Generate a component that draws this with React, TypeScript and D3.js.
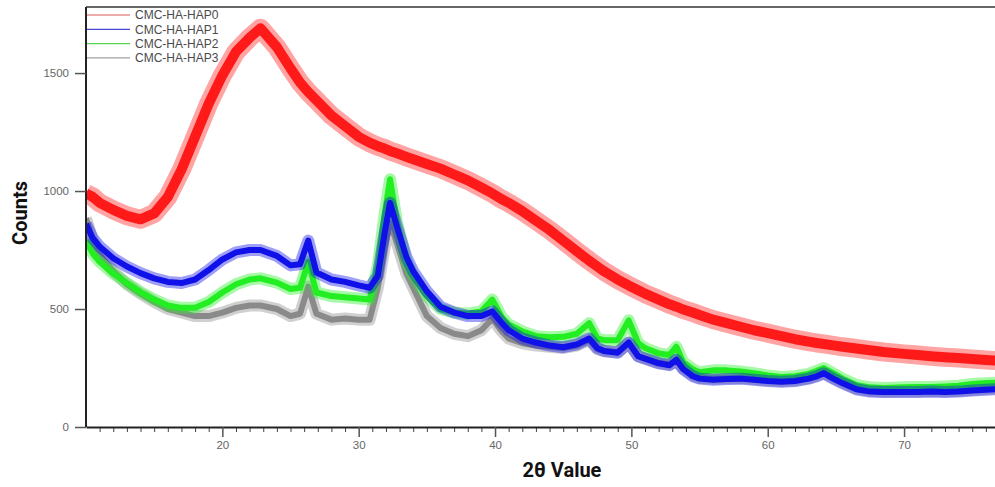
import { useEffect, useRef } from "react";
import * as d3 from "d3";

// 2θ positions shared by all four patterns (denser around the reflections)
const twoTheta = [
  10, 10.5, 11, 12, 13, 14, 15, 16, 17, 18, 19, 20, 21, 22, 22.8, 24, 25, 25.7, 26.3, 26.9,
  28, 29, 30, 30.8, 31.4, 31.9, 32.3, 32.8, 33.5, 34, 35, 36, 37, 38, 39, 39.8, 40.5, 41, 42, 43,
  44, 45, 46, 46.9, 47.5, 48, 49, 49.8, 50.5, 51, 52, 52.8, 53.3, 53.8, 54.5, 55, 56, 57, 58, 59,
  60, 61, 62, 63, 63.6, 64.1, 64.8, 65.5, 66.5, 67.5, 68.5, 70, 71, 72, 73, 74, 75, 76, 76.7,
];

const hap0 = [
  990, 975, 950, 920, 895, 880, 905, 975, 1090, 1230, 1370, 1490, 1590, 1650, 1690, 1610, 1520, 1460, 1420, 1385,
  1320, 1275, 1230, 1205, 1190, 1180, 1170, 1160, 1145, 1135, 1115, 1095, 1070, 1045, 1015, 990, 965, 950, 915, 875,
  835, 790, 745, 705, 680, 660, 625, 600, 580, 565, 540, 520, 510, 498, 485, 475, 455, 440, 425, 410,
  398, 385, 372, 362, 356, 352, 346, 340, 333, 325, 318, 310, 305, 300, 296, 292, 288, 284, 282,
];

const hap1 = [
  860, 800, 765, 715, 680, 652, 630, 615, 610, 625, 665, 710, 740, 750, 750, 725, 685, 690, 790, 655,
  625, 615, 600, 590, 640, 820, 950, 850, 720, 660, 575, 510, 485, 470, 470, 490, 440, 410, 375, 358,
  345, 338, 350, 375, 335, 322, 315, 358, 300, 290, 270, 262, 285, 245, 215, 205, 200, 203, 205, 200,
  195, 192, 195, 205, 215, 228, 205, 185, 160, 150, 148, 148, 148, 150, 148, 150, 155, 158, 160,
];

const hap2 = [
  790, 735, 700, 650, 610, 572, 540, 515, 505, 505, 530, 570, 605, 625, 630, 612, 585, 590, 700, 570,
  555, 550, 545, 540, 680, 900, 1050, 870, 700, 640, 555, 500, 485, 480, 490, 540, 465, 435, 405, 385,
  380, 382, 395, 440, 375, 368, 368, 452, 355, 335, 312, 305, 340, 275, 245, 232, 240, 240, 235, 228,
  218, 212, 215, 225, 238, 250, 228, 205, 178, 168, 165, 168, 170, 170, 172, 175, 182, 186, 188,
];

const hap3 = [
  885, 790, 730, 660, 605, 565, 530, 500, 485, 470, 470, 485, 505, 515, 515, 500, 470, 480, 595, 480,
  455, 460, 455, 455, 590, 760, 865, 780, 650, 590, 470, 420, 395, 385, 410, 460, 405, 375, 355, 345,
  340, 335, 345, 370, 330, 322, 318, 355, 300, 290, 272, 265, 285, 248, 220, 208, 205, 207, 208, 203,
  198, 195, 198, 207, 218, 230, 208, 188, 163, 153, 150, 152, 152, 153, 152, 154, 158, 162, 164,
];

const seriesNames = ["CMC-HA-HAP0", "CMC-HA-HAP1", "CMC-HA-HAP2", "CMC-HA-HAP3"];
const yTicks = [0, 500, 1000, 1500];
const xTicks = [20, 30, 40, 50, 60, 70];

export default function App() {
  const svgRef = useRef<SVGSVGElement>(null);

  useEffect(() => {
    if (!svgRef.current) return;
    const width = 995;
    const height = 487;
    const left = 86;
    const top = 7;
    const bottom = 427;

    const svg = d3.select(svgRef.current);
    svg.selectAll("*").remove();
    svg.attr("width", width).attr("height", height);

    const x = d3.scaleLinear().domain([10, 76.67]).range([left, width]);
    const y = d3.scaleLinear().domain([0, 1780]).range([bottom, top]);

    svg
      .append("defs")
      .append("clipPath")
      .attr("id", "plot-clip")
      .append("rect")
      .attr("x", left)
      .attr("y", top)
      .attr("width", width - left)
      .attr("height", bottom - top);

    const series = [
      { name: seriesNames[0], values: hap0, color: "#ff1a1a", legend: "#e05a5a", band: 19, core: 10 },
      { name: seriesNames[3], values: hap3, color: "#8a8a8a", legend: "#a0a0a0", band: 12, core: 6 },
      { name: seriesNames[2], values: hap2, color: "#22ee22", legend: "#55d655", band: 12, core: 6 },
      { name: seriesNames[1], values: hap1, color: "#1010e8", legend: "#4a4ad0", band: 12, core: 6 },
    ];

    const line = d3
      .line<number>()
      .x((_, i) => x(twoTheta[i]))
      .y((d) => y(d))
      .curve(d3.curveLinear);

    const plot = svg.append("g").attr("clip-path", "url(#plot-clip)");
    series.forEach((s) => {
      plot
        .append("path")
        .attr("d", line(s.values))
        .attr("fill", "none")
        .attr("stroke", s.color)
        .attr("stroke-opacity", 0.4)
        .attr("stroke-width", s.band)
        .attr("stroke-linejoin", "round");
      plot
        .append("path")
        .attr("d", line(s.values))
        .attr("fill", "none")
        .attr("stroke", s.color)
        .attr("stroke-width", s.core)
        .attr("stroke-linejoin", "round");
    });

    // frame top line
    svg
      .append("line")
      .attr("x1", left)
      .attr("x2", width)
      .attr("y1", top)
      .attr("y2", top)
      .attr("stroke", "#333")
      .attr("stroke-width", 1.5);

    // x axis: major + minor ticks
    const minor = d3.range(11, 77).filter((v) => v % 10 !== 0);
    svg
      .append("g")
      .attr("transform", `translate(0,${bottom})`)
      .call(d3.axisBottom(x).tickValues(minor).tickSize(5).tickSizeOuter(0).tickFormat(() => ""))
      .call((g) => g.select(".domain").remove())
      .call((g) => g.selectAll("line").attr("stroke", "#444").attr("stroke-width", 1));

    svg
      .append("g")
      .attr("transform", `translate(0,${bottom})`)
      .call(
        d3
          .axisBottom(x)
          .tickValues(xTicks)
          .tickSize(10)
          .tickSizeOuter(0)
          .tickPadding(4)
          .tickFormat(d3.format("d"))
      )
      .call((g) => g.select(".domain").attr("stroke", "#222").attr("stroke-width", 2))
      .call((g) => g.selectAll("line").attr("stroke", "#555").attr("stroke-width", 1.5))
      .call((g) =>
        g
          .selectAll("text")
          .attr("fill", "#666")
          .style("font-size", "11.5px")
          .style("font-family", "'Liberation Sans', Arial, sans-serif")
      );

    svg
      .append("g")
      .attr("transform", `translate(${left},0)`)
      .call(
        d3
          .axisLeft(y)
          .tickValues(yTicks)
          .tickSize(11)
          .tickSizeOuter(0)
          .tickPadding(6)
          .tickFormat(d3.format("d"))
      )
      .call((g) =>
        g.select(".domain").attr("d", `M0,${top}V${bottom}`).attr("stroke", "#222").attr("stroke-width", 2)
      )
      .call((g) => g.selectAll("line").attr("stroke", "#555").attr("stroke-width", 1.5))
      .call((g) =>
        g
          .selectAll("text")
          .attr("fill", "#666")
          .style("font-size", "11.5px")
          .style("font-family", "'Liberation Sans', Arial, sans-serif")
      );

    // legend
    const legendOrder = [0, 3, 2, 1];
    const legend = svg.append("g");
    legendOrder.forEach((idx, row) => {
      const s = series[idx];
      const ly = 15 + row * 14.3;
      legend
        .append("line")
        .attr("x1", left + 1)
        .attr("x2", 130)
        .attr("y1", ly)
        .attr("y2", ly)
        .attr("stroke", s.legend)
        .attr("stroke-width", 1.2);
      legend
        .append("text")
        .attr("x", 135)
        .attr("y", ly)
        .attr("dy", "0.35em")
        .attr("fill", "#4a4a4a")
        .style("font-size", "12px")
        .style("font-family", "'Liberation Sans', Arial, sans-serif")
        .text(s.name);
    });

    // axis titles
    svg
      .append("text")
      .attr("transform", `translate(27,213) rotate(-90)`)
      .attr("text-anchor", "middle")
      .attr("fill", "#111")
      .style("font-size", "20px")
      .style("font-weight", "700")
      .style("font-family", "Roboto, 'Open Sans', sans-serif")
      .text("Counts");

    svg
      .append("text")
      .attr("x", 562)
      .attr("y", 477)
      .attr("text-anchor", "middle")
      .attr("fill", "#111")
      .style("font-size", "20px")
      .style("font-weight", "700")
      .style("font-family", "Roboto, 'Open Sans', sans-serif")
      .text("2θ Value");
  }, []);

  return (
    <div style={{ position: "absolute", left: 0, top: 0, background: "#fff" }}>
      <svg ref={svgRef} style={{ display: "block" }} />
    </div>
  );
}
